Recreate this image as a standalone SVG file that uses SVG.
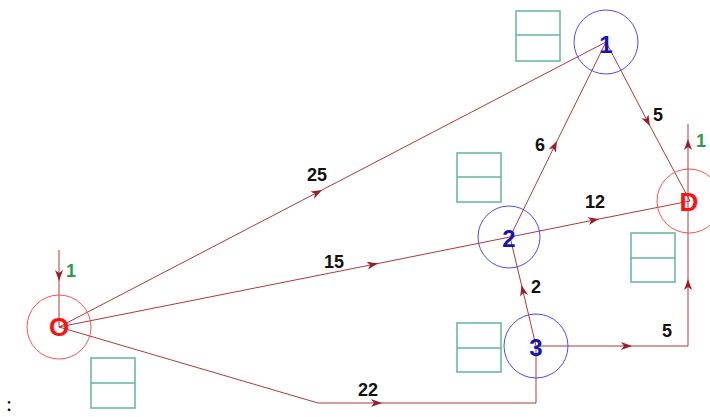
<svg xmlns="http://www.w3.org/2000/svg" width="710" height="417" viewBox="0 0 710 417">
<style>
.edge{fill:none;stroke:#a83c3c;stroke-width:1;marker-mid:url(#ah)}
.line{fill:none;stroke:#a83c3c;stroke-width:1}
.nb{fill:none;stroke:#4a4aff;stroke-width:1}
.nr{fill:none;stroke:#ff5050;stroke-width:1}
.box{fill:none;stroke:#5fb894;stroke-width:1.5}
.lb{font-family:"Liberation Sans",Arial,sans-serif;font-weight:bold;font-size:24px;fill:#1414b4;text-anchor:middle;dominant-baseline:central}
.lr{font-family:"Liberation Sans",Arial,sans-serif;font-weight:bold;font-size:26px;fill:#ff1010;text-anchor:middle;dominant-baseline:central}
.el{font-family:"Liberation Sans",Arial,sans-serif;font-weight:bold;font-size:18px;fill:#111;text-anchor:middle;dominant-baseline:central}
.gl{font-family:"Liberation Sans",Arial,sans-serif;font-weight:bold;font-size:18px;fill:#2a9a5a;text-anchor:middle;dominant-baseline:central}
</style>
<defs>
<marker id="ah" markerUnits="userSpaceOnUse" markerWidth="12" markerHeight="10" refX="11" refY="4" orient="auto">
<path d="M0,0 L11,4 L0,8 L3,4 z" fill="#9a1f2a"/>
</marker>
</defs>
<g id="connectors">
<path class="edge" d="M59,250 L59,281 L59,327"/>
<path class="edge" d="M59,327 L322,190 L606,42"/>
<path class="edge" d="M59,327 L378,263.5 L510,237"/>
<path class="edge" d="M510,237 L599,219 L690,201"/>
<path class="line" d="M59,327 L318,403"/>
<path class="edge" d="M318,403 L382,403 L536,403"/>
<path class="line" d="M536,403 L536,346"/>
<path class="edge" d="M536,346 L521.5,285 L510,237"/>
<path class="edge" d="M510,237 L557,141 L606,42"/>
<path class="edge" d="M606,42 L650,126 L690,201"/>
<path class="edge" d="M536,346 L632,346 L688,346"/>
<path class="edge" d="M688,346 L688,279 L688,201"/>
<path class="edge" d="M688,201 L688,139 L688,124"/>
</g>
<g id="labels">
<text class="el" x="317" y="175">25</text>
<text class="el" x="334" y="262">15</text>
<text class="el" x="595" y="202">12</text>
<text class="el" x="368" y="390">22</text>
<text class="el" x="536" y="287">2</text>
<text class="el" x="540" y="145">6</text>
<text class="el" x="658" y="115">5</text>
<text class="el" x="667" y="331">5</text>
<text class="gl" x="71" y="271">1</text>
<text class="gl" x="701" y="141">1</text>
<text x="6" y="411" font-family="Liberation Serif,serif" font-size="22" fill="#000">:</text>
</g>
<g id="node-O">
<circle class="nr" cx="59" cy="327" r="32"/>
<text class="lr" x="59" y="327">O</text>
<rect class="box" x="91" y="358" width="44" height="50"/>
<line class="box" x1="91" y1="383" x2="135" y2="383"/>
</g>
<g id="node-1">
<circle class="nb" cx="606" cy="42" r="32"/>
<text class="lb" x="606" y="44">1</text>
<rect class="box" x="516" y="11" width="44" height="50"/>
<line class="box" x1="516" y1="35" x2="560" y2="35"/>
</g>
<g id="node-2">
<circle class="nb" cx="509" cy="237" r="31"/>
<text class="lb" x="509" y="238">2</text>
<rect class="box" x="457" y="153" width="44" height="49"/>
<line class="box" x1="457" y1="177" x2="501" y2="177"/>
</g>
<g id="node-3">
<circle class="nb" cx="536" cy="346" r="32"/>
<text class="lb" x="536" y="347">3</text>
<rect class="box" x="457" y="323" width="44" height="49"/>
<line class="box" x1="457" y1="348" x2="501" y2="348"/>
</g>
<g id="node-D">
<circle class="nr" cx="689" cy="201" r="32"/>
<text class="lr" x="689" y="202">D</text>
<rect class="box" x="631" y="233" width="44" height="49"/>
<line class="box" x1="631" y1="258" x2="675" y2="258"/>
</g>
</svg>
